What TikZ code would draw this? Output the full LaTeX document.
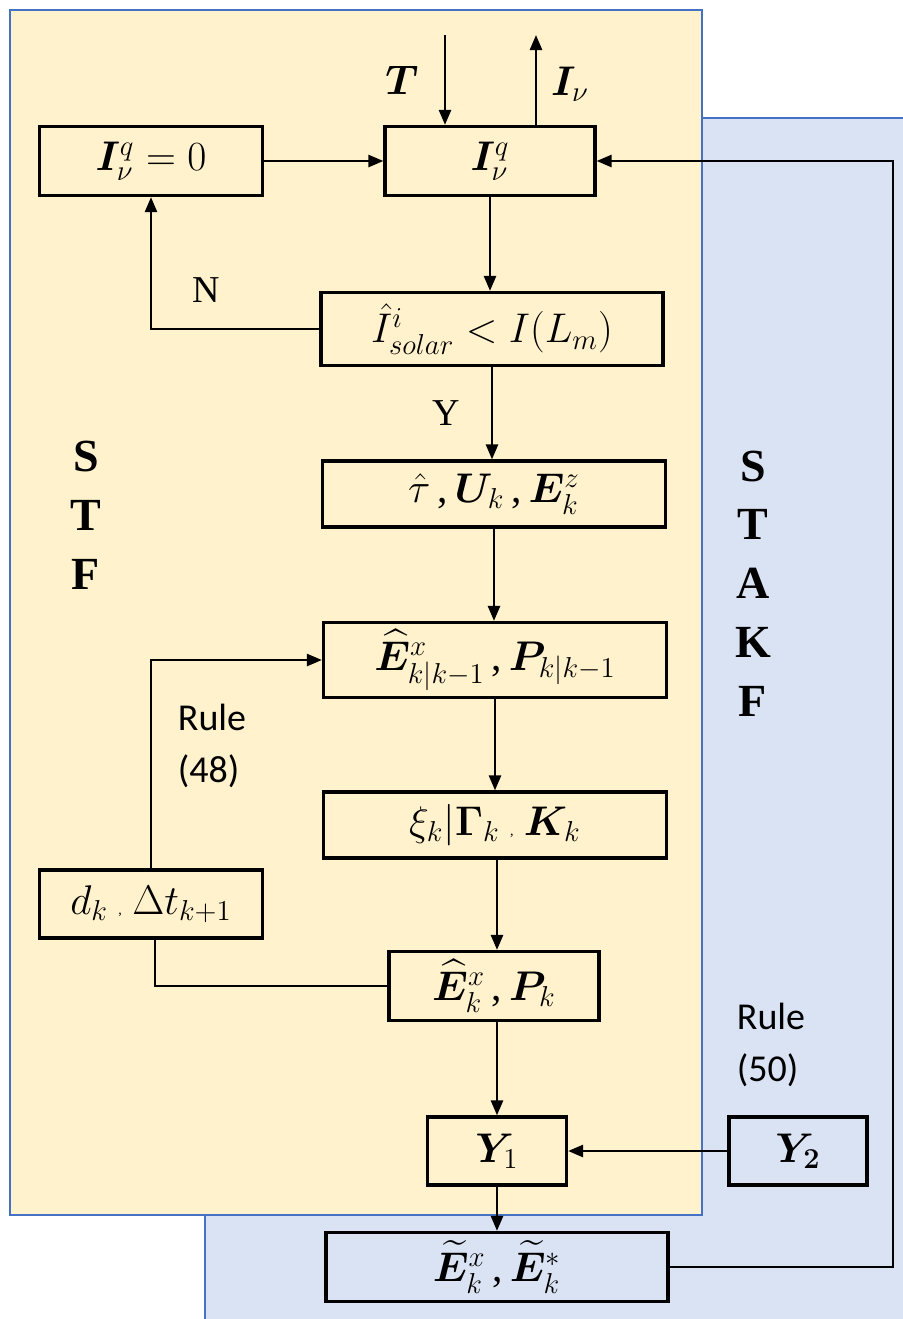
\documentclass[tikz,border=0pt]{standalone}
\usepackage{amsmath,bm}
\usepackage{fontspec}
\setmainfont{Liberation Serif}
\newfontfamily\rulefont{Carlito}
\usetikzlibrary{arrows.meta}
\definecolor{stfyellow}{HTML}{FFF2CC}
\definecolor{stakfblue}{HTML}{DAE3F3}
\definecolor{frameblue}{HTML}{4472C4}
\tikzset{
  blk/.style={draw, line width=1.6pt, inner sep=0pt, font=\fontsize{20.74}{24}\selectfont},
  flow/.style={line width=1.25pt, -{Triangle[length=7.5pt,width=6pt]}},
  link/.style={line width=1.25pt},
  lbl/.style={font=\fontsize{19}{22}\selectfont},
  mlbl/.style={font=\fontsize{20.74}{24}\selectfont},
  rulelbl/.style={font=\rulefont\fontsize{19}{26}\selectfont, align=left},
  bigletter/.style={font=\fontsize{23}{25}\selectfont\bfseries},
}
\begin{document}
\begin{tikzpicture}[x=0.5pt,y=-0.5pt]
  \useasboundingbox (0,0) rectangle (903,1319);
  % filter panels
  \filldraw[fill=stakfblue, draw=frameblue, line width=0.75pt] (205,118) rectangle (905,1321);
  \filldraw[fill=stfyellow, draw=frameblue, line width=0.75pt] (10,10) rectangle (702,1215);

  % blocks
  \node[blk, minimum width=111.5pt, minimum height=34.5pt] (b0) at (151,161) {$\bm{I}_{\nu}^{q}=0$};
  \node[blk, minimum width=105pt, minimum height=34.5pt] (b1) at (490,161) {$\bm{I}_{\nu}^{q}$};
  \node[blk, minimum width=171pt, minimum height=36.5pt] (b2) at (492,329) {$\hat{I}_{solar}^{i}<I(L_m)$};
  \node[blk, minimum width=171.5pt, minimum height=33pt] (b3) at (494,494) {$\hat{\tau}$\,,\,$\bm{U}_k$\,,\,$\bm{E}_k^{z}$};
  \node[blk, minimum width=171.5pt, minimum height=37.5pt] (b4) at (495,660) {$\widehat{\bm{E}}_{k|k-1}^{x}$\,,\,$\bm{P}_{k|k-1}$};
  \node[blk, minimum width=171.5pt, minimum height=33pt] (b5) at (495,825) {$\xi_k|\bm{\Gamma}_k$ {\scriptsize ,} $\bm{K}_k$};
  \node[blk, minimum width=111.5pt, minimum height=34pt] (b6) at (151,904) {$d_k$ {\scriptsize ,} $\Delta t_{k+1}$};
  \node[blk, minimum width=105pt, minimum height=34.5pt] (b7) at (494,986) {$\widehat{\bm{E}}_k^{x}$\,,\,$\bm{P}_k$};
  \node[blk, minimum width=69.5pt, minimum height=34pt] (b8) at (497,1151) {$\bm{Y}_1$};
  \node[blk, minimum width=69pt, minimum height=34pt] (b9) at (798,1151) {$\bm{Y}_{\bm{2}}$};
  \node[blk, minimum width=171pt, minimum height=34.5pt] (b10) at (497,1267) {$\widetilde{\bm{E}}_k^{x}$\,,\,$\widetilde{\bm{E}}_k^{*}$};

  % inputs and outputs
  \coordinate (tin) at (445,35);
  \coordinate (iout) at (536,35);
  \node[mlbl] (tlbl) at (402,80) {$\bm{T}$};
  \node[mlbl] (ilbl) at (570,84) {$\bm{I}_{\nu}$};
  \draw[flow] (tin) -- (tin |- b1.north);
  \draw[flow] (iout |- b1.north) -- (iout);

  % connectors
  \draw[flow] (b0) -- (b1);
  \draw[flow] (b1.south) -- (b1.south |- b2.north);
  \draw[flow] (b2.west) -| (b0.south);
  \draw[flow] (b2.south) -- (b2.south |- b3.north);
  \draw[flow] (b3.south) -- (b3.south |- b4.north);
  \draw[flow] (b4.south) -- (b4.south |- b5.north);
  \draw[flow] ([xshift=1.5pt]b7.north |- b5.south) -- ([xshift=1.5pt]b7.north);
  \draw[link] (b7.west) -| ([xshift=2pt]b6.south);
  \draw[flow] (b6.north) |- (b4.west);
  \draw[flow] ([xshift=1.5pt]b7.south) -- ([xshift=1.5pt]b7.south |- b8.north);
  \draw[flow] (b9) -- (b8);
  \draw[flow] (b8) -- (b10);
  \coordinate (fb) at (893,1267);
  \draw[flow] (b10.east) -- (fb) |- (b1.east);

  % labels
  \node[lbl] (nlbl) at (206,290) {N};
  \node[lbl] (ylbl) at (446,413) {Y};
  \node[rulelbl] (r48) at (212,746) {Rule\\(48)};
  \node[rulelbl] (r50) at (771,1045) {Rule\\(50)};
  \foreach \ch [count=\i from 0] in {S,T,F}
    \node[bigletter] at (86,456+59*\i) {\ch};
  \foreach \ch [count=\i from 0] in {S,T,A,K,F}
    \node[bigletter] at (753,466+58.75*\i) {\ch};
\end{tikzpicture}
\end{document}
